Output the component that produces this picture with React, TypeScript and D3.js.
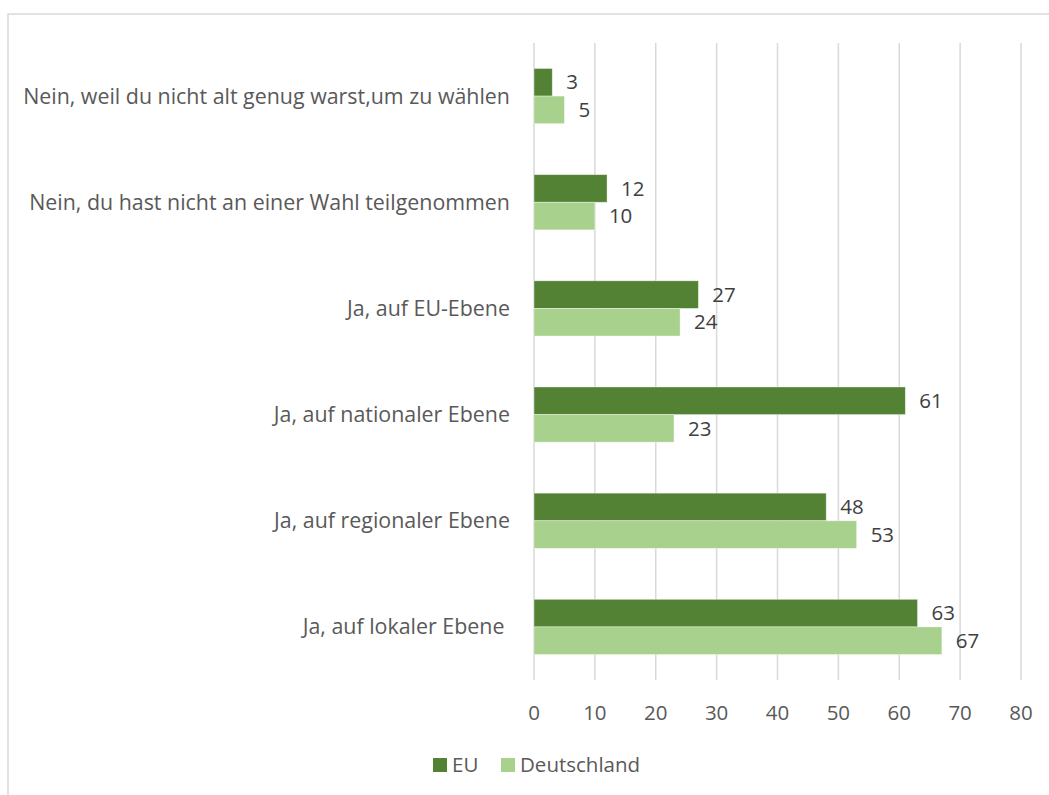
import React from "react";
import * as d3 from "d3";

const categories = [
  "Nein, weil du nicht alt genug warst,um zu wählen",
  "Nein, du hast nicht an einer Wahl teilgenommen",
  "Ja, auf EU-Ebene",
  "Ja, auf nationaler Ebene",
  "Ja, auf regionaler Ebene",
  "Ja, auf lokaler Ebene ",
];
const euValues = [3, 12, 27, 61, 48, 63];
const deValues = [5, 10, 24, 23, 53, 67];
const xTicks = [0, 10, 20, 30, 40, 50, 60, 70, 80];
const seriesNames = ["EU", "Deutschland"];
const seriesColors = ["#548235", "#A9D18E"];

export default function App() {
  const W = 1049;
  const H = 795;
  const left = 534;
  const right = 1021;
  const top = 43;
  const bottom = 680;
  const x = d3.scaleLinear().domain([0, 80]).range([left, right]);
  const y = d3
    .scaleBand<string>()
    .domain(categories)
    .range([top, bottom])
    .paddingInner(0.48)
    .paddingOuter(0.24);
  const inner = d3
    .scaleBand<string>()
    .domain(seriesNames)
    .range([0, y.bandwidth()]);
  const font = "'Open Sans', Lato, sans-serif";
  const fs = 20.5;
  const fsCat = 21.4;
  const series = [euValues, deValues];

  return (
    <svg
      width={W}
      height={H}
      style={{ position: "absolute", left: 0, top: 0 }}
      fontFamily={font}
    >
      <rect x={0} y={0} width={W} height={H} fill="#fff" />
      <rect
        x={8}
        y={14}
        width={W + 10}
        height={H + 10}
        fill="none"
        stroke="#d9d9d9"
        strokeWidth={1.5}
      />
      {xTicks.map((t) => (
        <line
          key={t}
          x1={x(t)}
          x2={x(t)}
          y1={top}
          y2={bottom}
          stroke="#d9d9d9"
          strokeWidth={1.5}
        />
      ))}
      {categories.map((c, i) => (
        <g key={c}>
          {series.map((vals, s) => {
            const by = (y(c) as number) + (inner(seriesNames[s]) as number);
            const bh = inner.bandwidth();
            return (
              <g key={s}>
                <rect
                  x={x(0)}
                  y={by}
                  width={x(vals[i]) - x(0)}
                  height={bh}
                  fill={seriesColors[s]}
                  stroke="#ffffff"
                  strokeOpacity={0.5}
                  strokeWidth={0.75}
                />
                <text
                  x={x(vals[i]) + 14}
                  y={by + bh / 2}
                  dy="0.35em"
                  fontSize={fs}
                  fill="#404040"
                >
                  {vals[i]}
                </text>
              </g>
            );
          })}
          <text
            x={510}
            y={(y(c) as number) + y.bandwidth() / 2}
            dy="0.35em"
            textAnchor="end"
            fontSize={fsCat}
            fill="#595959"
            style={{ whiteSpace: "pre" }}
          >
            {c}
          </text>
        </g>
      ))}
      {xTicks.map((t) => (
        <text
          key={t}
          x={x(t)}
          y={713}
          dy="0.35em"
          textAnchor="middle"
          fontSize={fs}
          fill="#595959"
        >
          {t}
        </text>
      ))}
      {seriesNames.map((n, s) => {
        const lx = s === 0 ? 433 : 501;
        return (
          <g key={n}>
            <rect x={lx} y={758} width={14} height={14} fill={seriesColors[s]} />
            <text
              x={lx + 19}
              y={765}
              dy="0.35em"
              fontSize={fs}
              fill="#595959"
            >
              {n}
            </text>
          </g>
        );
      })}
    </svg>
  );
}
